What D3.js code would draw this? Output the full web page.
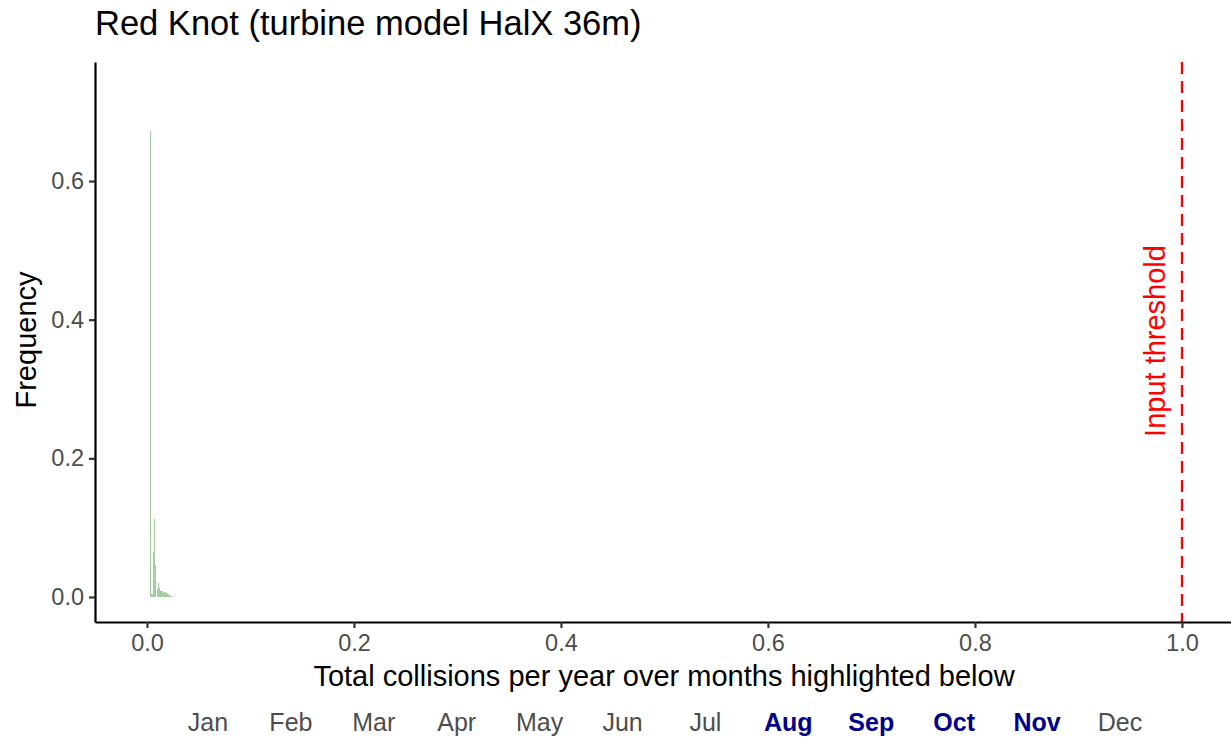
<!DOCTYPE html>
<html>
<head>
<meta charset="utf-8">
<script src="https://cdn.jsdelivr.net/npm/d3@7"></script>
<style>
  body { margin: 0; background: #fff; }
  svg { font-family: "Liberation Sans", Arial, sans-serif; }
</style>
</head>
<body>
<script>
// histogram bins (centre of bin, width 0.001)
var binCentres = [0.003, 0.004, 0.005, 0.006, 0.007, 0.008, 0.009, 0.010, 0.011, 0.012,
                  0.013, 0.014, 0.015, 0.016, 0.017, 0.018, 0.019, 0.020, 0.021, 0.022,
                  0.023, 0.024, 0.025];
var binFreq = [0.672, 0.004, 0.004, 0.065, 0.113, 0.046, 0.000, 0.012, 0.020, 0.013,
               0.008, 0.008, 0.008, 0.006, 0.007, 0.007, 0.005, 0.006, 0.004, 0.003,
               0.002, 0.002, 0.001];
var binWidth = 0.001;
var threshold = 1.0;
var xTicks = [0, 0.2, 0.4, 0.6, 0.8, 1.0];
var yTicks = [0, 0.2, 0.4, 0.6];
var months = ["Jan","Feb","Mar","Apr","May","Jun","Jul","Aug","Sep","Oct","Nov","Dec"];
var highlighted = ["Aug","Sep","Oct","Nov"];

var W = 1231, H = 740;
var margin = {top: 62, right: 0, bottom: 118, left: 95};
var width = W - margin.left - margin.right,
    height = H - margin.top - margin.bottom;

var svg = d3.select("body").append("svg")
  .attr("width", W).attr("height", H);

var g = svg.append("g")
  .attr("transform", "translate(" + margin.left + "," + margin.top + ")");

var x = d3.scaleLinear().domain([-0.0502, 1.0474]).range([0, width]);
var y = d3.scaleLinear().domain([-0.0361, 0.7717]).range([height, 0]);

// bars
g.selectAll(".bar")
  .data(binCentres)
  .enter().append("rect")
  .attr("class", "bar")
  .attr("x", function(d) { return x(d - binWidth / 2); })
  .attr("width", function(d) { return Math.max(1, x(d + binWidth / 2) - x(d - binWidth / 2)); })
  .attr("y", function(d, i) { return y(binFreq[i]); })
  .attr("height", function(d, i) { return y(0) - y(binFreq[i]); })
  .attr("shape-rendering", "crispEdges")
  .style("fill", "#a3cfa3");

// threshold line
g.append("line")
  .attr("x1", x(threshold)).attr("x2", x(threshold))
  .attr("y1", 0).attr("y2", height)
  .style("stroke", "#ff0000")
  .style("stroke-width", 2.2)
  .style("stroke-dasharray", "12,7");

g.append("text")
  .attr("transform", "translate(" + (x(threshold) - 17) + "," + (341 - margin.top) + ") rotate(-90)")
  .style("text-anchor", "middle")
  .style("font-size", "29px")
  .style("fill", "#ff0000")
  .text("Input threshold");

// x axis
var xAxis = d3.axisBottom(x).tickValues(xTicks).tickFormat(d3.format(".1f"))
  .tickSize(6).tickSizeOuter(0).tickPadding(4);
var gx = g.append("g")
  .attr("transform", "translate(0," + height + ")")
  .call(xAxis);
gx.attr("font-family", null).attr("font-size", null);
gx.select(".domain").style("stroke", "#000").style("stroke-width", 2.2);
gx.selectAll(".tick line").style("stroke", "#333").style("stroke-width", 2.2);
gx.selectAll(".tick text").style("font-size", "23.5px").style("fill", "#4d4d4d")
  .attr("dy", "0.8em");

// y axis
var yAxis = d3.axisLeft(y).tickValues(yTicks).tickFormat(d3.format(".1f"))
  .tickSize(6).tickSizeOuter(0).tickPadding(5);
var gy = g.append("g").call(yAxis);
gy.attr("font-family", null).attr("font-size", null);
gy.select(".domain").style("stroke", "#000").style("stroke-width", 2.2);
gy.selectAll(".tick line").style("stroke", "#333").style("stroke-width", 2.2);
gy.selectAll(".tick text").style("font-size", "23.5px").style("fill", "#4d4d4d");

// axis titles
svg.append("text")
  .attr("x", 664)
  .attr("y", 686)
  .style("text-anchor", "middle")
  .style("font-size", "29px")
  .style("fill", "#000")
  .text("Total collisions per year over months highlighted below");

svg.append("text")
  .attr("transform", "translate(36,340) rotate(-90)")
  .style("text-anchor", "middle")
  .style("font-size", "29px")
  .style("fill", "#000")
  .text("Frequency");

// title
svg.append("text")
  .attr("x", 95)
  .attr("y", 35)
  .style("font-size", "34.5px")
  .style("fill", "#000")
  .text("Red Knot (turbine model HalX 36m)");

// months row
var mx = d3.scalePoint().domain(months).range([208, 1120]);
svg.selectAll(".month")
  .data(months)
  .enter().append("text")
  .attr("class", "month")
  .attr("x", function(d) { return mx(d); })
  .attr("y", 731)
  .style("text-anchor", "middle")
  .style("font-size", "25px")
  .style("font-weight", function(d) { return highlighted.indexOf(d) >= 0 ? "bold" : "normal"; })
  .style("fill", function(d) { return highlighted.indexOf(d) >= 0 ? "#00008b" : "#4d4d4d"; })
  .text(function(d) { return d; });
</script>
</body>
</html>
